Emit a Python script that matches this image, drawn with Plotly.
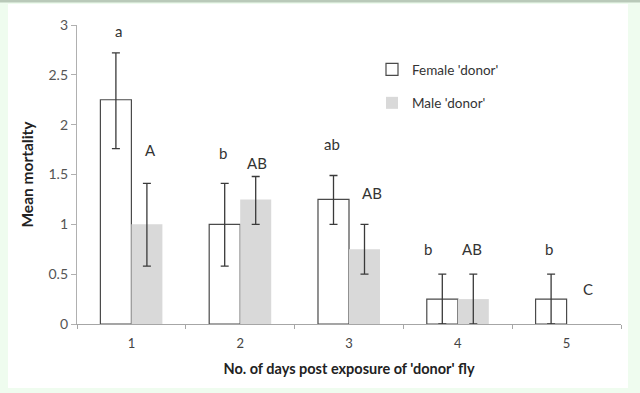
import plotly.graph_objects as go

days = ["1", "2", "3", "4", "5"]
female_mean = [2.25, 1.0, 1.25, 0.25, 0.25]
female_err_plus = [0.47, 0.41, 0.24, 0.25, 0.25]
female_err_minus = [0.49, 0.42, 0.25, 0.25, 0.25]
male_mean = [1.0, 1.25, 0.75, 0.25, 0.0]
male_err_plus = [0.41, 0.23, 0.25, 0.25, 0.0]
male_err_minus = [0.42, 0.25, 0.25, 0.25, 0.0]
female_letters = ["a", "b", "ab", "b", "b"]
male_letters = ["A", "AB", "AB", "AB", "C"]
female_letter_y = [2.94, 1.72, 1.81, 0.75, 0.75]
male_letter_y = [1.75, 1.62, 1.31, 0.75, 0.35]

FONT = "Lato, 'Open Sans', sans-serif"
female_xshift = [3, -2, -2, -14, -2]
male_xshift = [4, 1, 7, -1, 6]

# a zero mean is drawn as no bar (and no error bar)
male_plot_y = [v if v > 0 else None for v in male_mean]

fig = go.Figure()
fig.add_trace(go.Bar(
    x=days, y=female_mean, name="Female 'donor'", legendgroup="f",
    marker=dict(color="white", line=dict(color="#4a4a4a", width=1.2)),
    error_y=dict(type="data", symmetric=False, array=female_err_plus,
                 arrayminus=female_err_minus, color="#3a3a3a", thickness=1.3, width=4),
))
fig.add_trace(go.Bar(
    x=days, y=male_plot_y, name="Male 'donor'", legendgroup="m",
    marker=dict(color="#d9d9d9", line=dict(width=0)),
    error_y=dict(type="data", symmetric=False, array=male_err_plus,
                 arrayminus=male_err_minus, color="#3a3a3a", thickness=1.3, width=4),
))

ann = []
for i in range(len(days)):
    ann.append(dict(x=i - 0.1425, y=female_letter_y[i], xref="x", yref="y",
                    text=female_letters[i], showarrow=False, xshift=female_xshift[i],
                    font=dict(family=FONT, size=15, color="#333333")))
    ann.append(dict(x=i + 0.1425, y=male_letter_y[i], xref="x", yref="y",
                    text=male_letters[i], showarrow=False, xshift=male_xshift[i],
                    font=dict(family=FONT, size=15, color="#333333")))

L, R, T, B = 77, 621, 25, 324
W, H = R - L, B - T
def px(xp):
    return (xp - L) / W
def py(yp):
    return (B - yp) / H

shapes = [
    dict(type="rect", xref="paper", yref="paper", x0=px(8), x1=px(628), y0=py(388), y1=py(4),
         fillcolor="white", line=dict(width=0), layer="below"),
    dict(type="line", xref="paper", yref="paper", x0=px(-5), x1=px(645), y0=py(1), y1=py(1),
         line=dict(color="#b9c9b9", width=3), layer="below"),
]

fig.update_layout(
    width=640, height=393,
    margin=dict(l=L, r=640 - R, t=T, b=393 - B, autoexpand=False),
    paper_bgcolor="#effcef", plot_bgcolor="white",
    barmode="group", bargap=0.43, bargroupgap=0,
    font=dict(family=FONT, color="#444444"),
    showlegend=True,
    legend=dict(x=px(372), y=py(54), xanchor="left", yanchor="top",
                bgcolor="rgba(0,0,0,0)", tracegroupgap=13,
                font=dict(family=FONT, size=13.5, color="#333333")),
    xaxis=dict(type="category", automargin=False, showline=True, linecolor="#a6a6a6", linewidth=1.3,
               ticks="outside", tickson="boundaries", ticklen=4, tickcolor="#a6a6a6",
               ticklabelstandoff=7,
               tickfont=dict(family=FONT, size=13, color="#444444"),
               title=dict(text="<b>No. of days post exposure of 'donor' fly</b>",
                          font=dict(family=FONT, size=14.5, color="#222222"), standoff=14),
               showgrid=False, zeroline=False),
    yaxis=dict(range=[0, 3], dtick=0.5, automargin=False, showline=True, linecolor="#b0b0b0", linewidth=1.3,
               ticks="outside", ticklen=5, tickcolor="#b0b0b0",
               tickfont=dict(family=FONT, size=14, color="#555555"),
               title=dict(text="<b>Mean mortality</b>",
                          font=dict(family=FONT, size=15.5, color="#222222"), standoff=11),
               showgrid=False, zeroline=False),
    annotations=ann, shapes=shapes,
)

fig.write_html("out.html", config={"displayModeBar": False},
               post_script="document.body.style.margin='0';")
